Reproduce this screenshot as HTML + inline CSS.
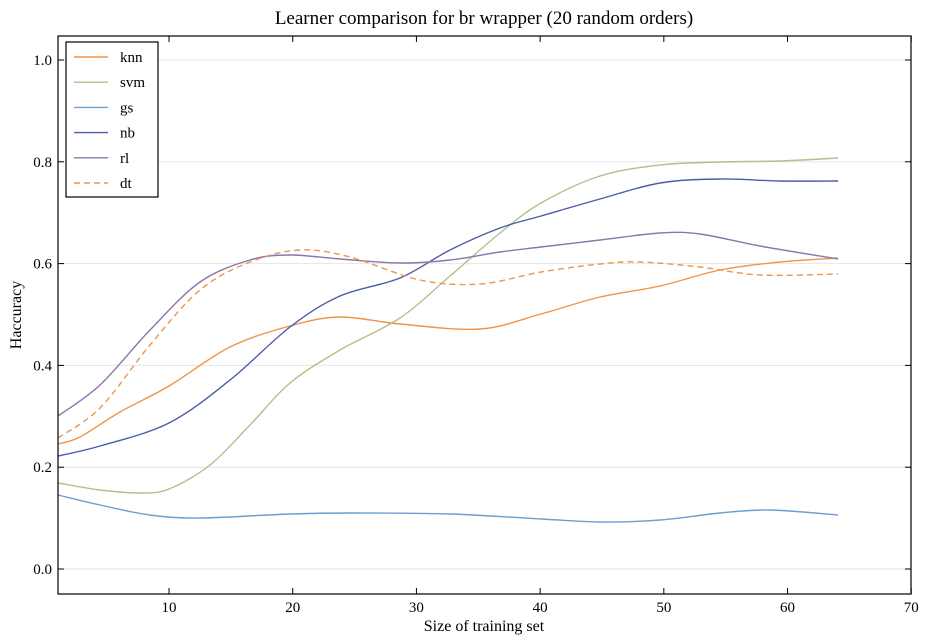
<!DOCTYPE html>
<html><head><meta charset="utf-8"><style>
body{margin:0;background:#fff;}
svg{display:block;font-family:"Liberation Serif","DejaVu Serif",serif;}
</style></head><body>
<svg id="s" width="928" height="644" viewBox="0 0 928 644" xmlns="http://www.w3.org/2000/svg">
<rect width="928" height="644" fill="#fff"/>
<text x="484" y="24" font-size="19" text-anchor="middle">Learner comparison for br wrapper (20 random orders)</text>
<g id="grid" stroke="#e6e6e6" stroke-width="1"></g>
<g id="series" fill="none" stroke-width="1.4"></g>
<rect x="58" y="36" width="853" height="558" fill="none" stroke="#000" stroke-width="1.2"/>
<g id="ticks" stroke="#000" stroke-width="1"></g>
<g id="labels" font-size="15"></g>
<text x="484" y="631" font-size="16" text-anchor="middle">Size of training set</text>
<text transform="translate(21,315) rotate(-90)" font-size="16" text-anchor="middle">Haccuracy</text>
<g id="legend"></g>
</svg>
<script>
var ns="http://www.w3.org/2000/svg";
function el(p,t,a,txt){var e=document.createElementNS(ns,t);for(var k in a)e.setAttribute(k,a[k]);if(txt)e.textContent=txt;document.getElementById(p).appendChild(e);return e;}
function X(v){return 57.7+(v-1)*12.37;}
function Y(v){return 569-v*509;}
for(var v=0;v<=1.001;v+=0.2){var y=Y(v);el("grid","line",{x1:58,x2:911,y1:y,y2:y});
el("ticks","line",{x1:58,x2:64,y1:y,y2:y});el("ticks","line",{x1:905,x2:911,y1:y,y2:y});
el("labels","text",{x:52,y:y+5,"text-anchor":"end"},v.toFixed(1));}
for(var t=10;t<=70;t+=10){var x=X(t);el("ticks","line",{x1:x,x2:x,y1:588,y2:594});el("ticks","line",{x1:x,x2:x,y1:36,y2:42});
el("labels","text",{x:x,y:612,"text-anchor":"middle"},t);}
function path(p){var d="M"+p[0][0]+","+p[0][1];for(var i=0;i<p.length-1;i++){var p0=p[i-1]||p[i],p1=p[i],p2=p[i+1],p3=p[i+2]||p2;
d+=" C"+(p1[0]+(p2[0]-p0[0])/6)+","+(p1[1]+(p2[1]-p0[1])/6)+" "+(p2[0]-(p3[0]-p1[0])/6)+","+(p2[1]-(p3[1]-p1[1])/6)+" "+p2[0]+","+p2[1];}return d;}
var S=[
["knn","#ef9448",0,[[58,444],[80,437],[120,412],[169,386],[230,347],[290,326],[340,317],[400,324],[480,329],[541,314],[600,297],[660,286],[720,270],[780,262],[838,258]]],
["svm","#b3c08a",0,[[58,483],[100,490],[140,493],[169,489],[210,465],[250,425],[290,383],[340,350],[400,318],[450,276],[500,233],[541,203],[600,176],[660,165],[720,162],[780,161],[838,158]]],
["gs","#6c9fd1",0,[[58,495],[100,505],[150,515],[200,518],[290,514],[350,513],[450,514],[541,519],[600,522],[660,520],[720,513],[770,510],[838,515]]],
["nb","#4b5ca9",0,[[58,456],[100,446],[169,423],[230,380],[290,327],[340,296],[400,278],[450,250],[500,228],[541,216],[600,199],[660,183],[720,179],[780,181],[838,181]]],
["rl","#8877ab",0,[[58,416],[100,385],[150,330],[200,282],[250,260],[290,255],[340,259],[400,263],[450,260],[500,252],[541,247],[600,240],[660,233],[700,234],[760,246],[838,259]]],
["dt","#ef9448",1,[[58,438],[100,408],[150,345],[200,290],[250,262],[300,250],[350,257],[420,280],[480,284],[541,272],[600,264],[640,262],[700,267],[760,275],[838,274]]]
];
el("legend","rect",{x:66,y:42,width:92,height:155,fill:"#fff",stroke:"#000","stroke-width":1.2});
S.forEach(function(s,i){var a={d:path(s[3]),stroke:s[1]};if(s[2])a["stroke-dasharray"]="6,4";el("series","path",a);
var y=57+25.2*i;var b={x1:74,x2:108,y1:y,y2:y,stroke:s[1],"stroke-width":1.4};if(s[2])b["stroke-dasharray"]="6,4";el("legend","line",b);
el("legend","text",{x:120,y:y+5,"font-size":15},s[0]);});
</script>
</body></html>
